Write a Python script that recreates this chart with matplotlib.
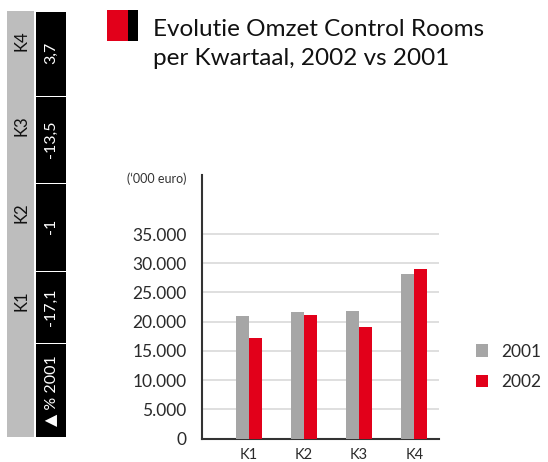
import matplotlib
matplotlib.use("Agg")
import matplotlib.pyplot as plt
import numpy as np
from matplotlib.patches import Rectangle

plt.rcParams["font.family"] = ["Lato", "DejaVu Sans"]

# data
kwartalen = ["K1", "K2", "K3", "K4"]
omzet_2001 = [21000, 21700, 21900, 28200]
omzet_2002 = [17300, 21200, 19100, 29100]
pct_vs_2001 = ["-17,1", "-1", "-13,5", "3,7"]
yticks = [0, 5000, 10000, 15000, 20000, 25000, 30000, 35000]
ytick_labels = ["0", "5.000", "10.000", "15.000", "20.000", "25.000", "30.000", "35.000"]
titel = ["Evolutie Omzet Control Rooms", "per Kwartaal, 2002 vs 2001"]

GRAY = "#a6a6a6"
RED = "#e2001a"
W, H = 548, 462

fig = plt.figure(figsize=(W / 100, H / 100), dpi=100)

# main bar chart, positioned in pixels
ax = fig.add_axes([201.7 / W, (H - 438.7) / H, (439 - 201.7) / W, (438.7 - 175) / H])
x = np.arange(len(kwartalen))
bw = 0.235
ax.bar(x - bw / 2, omzet_2001, bw, color=GRAY, zorder=3, label="2001")
ax.bar(x + bw / 2, omzet_2002, bw, color=RED, zorder=3, label="2002")
ax.set_xlim(-0.86, 3.45)
ax.set_ylim(0, 45090)
ax.set_yticks(yticks)
ax.set_yticklabels(ytick_labels, fontsize=12.5, color="#2a2a2a")
ax.set_xticks(x)
ax.set_xticklabels(kwartalen, fontsize=10.5, color="#2a2a2a")
ax.tick_params(axis="both", length=0)
ax.tick_params(axis="y", pad=11)
ax.tick_params(axis="x", pad=6.5)
ax.grid(axis="y", color="#d9d9d9", linewidth=1.2, zorder=0)
for s in ["top", "right"]:
    ax.spines[s].set_visible(False)
ax.spines["left"].set_color("#333333")
ax.spines["left"].set_linewidth(1.5)
ax.spines["bottom"].set_color("#333333")
ax.spines["bottom"].set_linewidth(1.5)
ax.text(-0.065, 0.985, "(\u2018000 euro)", transform=ax.transAxes, ha="right", va="center",
        fontsize=9, color="#333333")

leg = ax.legend(loc="center left", bbox_to_anchor=(1.12, 0.272), frameon=False, fontsize=12.5,
                handlelength=0.7, handleheight=0.7, handletextpad=0.75, labelspacing=0.85,
                borderpad=0)
for t in leg.get_texts():
    t.set_color("#2a2a2a")

# overlay in pixel coordinates for title block and table
ov = fig.add_axes([0, 0, 1, 1], zorder=-1)
ov.set_xlim(0, W)
ov.set_ylim(H, 0)
ov.axis("off")

ov.add_patch(Rectangle((107, 10), 21, 31, color=RED, lw=0))
ov.add_patch(Rectangle((128, 10), 10, 31, color="black", lw=0))
for regel, base in zip(titel, [36, 65]):
    ov.text(153, base, regel, fontsize=17.5, color="#111111", va="baseline", ha="left")

# table left: quarter labels on gray band, % changes on black cells
ov.add_patch(Rectangle((7, 11), 27, 426, color="#bdbdbd", lw=0))
edges = [437, 343.3, 271, 182.7, 95.7, 11]
ov.add_patch(Rectangle((36, edges[1] + 1), 30, edges[0] - edges[1] - 1, color="black", lw=0))
ov.text(51, (edges[0] + edges[1]) / 2, "\u25b2 % 2001", rotation=90, ha="center", va="center",
        fontsize=11.5, color="white")
for i, (k, p) in enumerate(zip(kwartalen, pct_vs_2001)):
    y0, y1 = edges[i + 2], edges[i + 1]
    ov.add_patch(Rectangle((36, y0 + 1), 30, y1 - y0 - 1, color="black", lw=0))
    ov.text(51, (y0 + y1) / 2, p, rotation=90, ha="center", va="center",
            fontsize=11.5, color="white")
    ov.text(21, y0 + 30, k, rotation=90, ha="center", va="center",
            fontsize=12, color="#111111")

fig.savefig("out.png", dpi=100)
